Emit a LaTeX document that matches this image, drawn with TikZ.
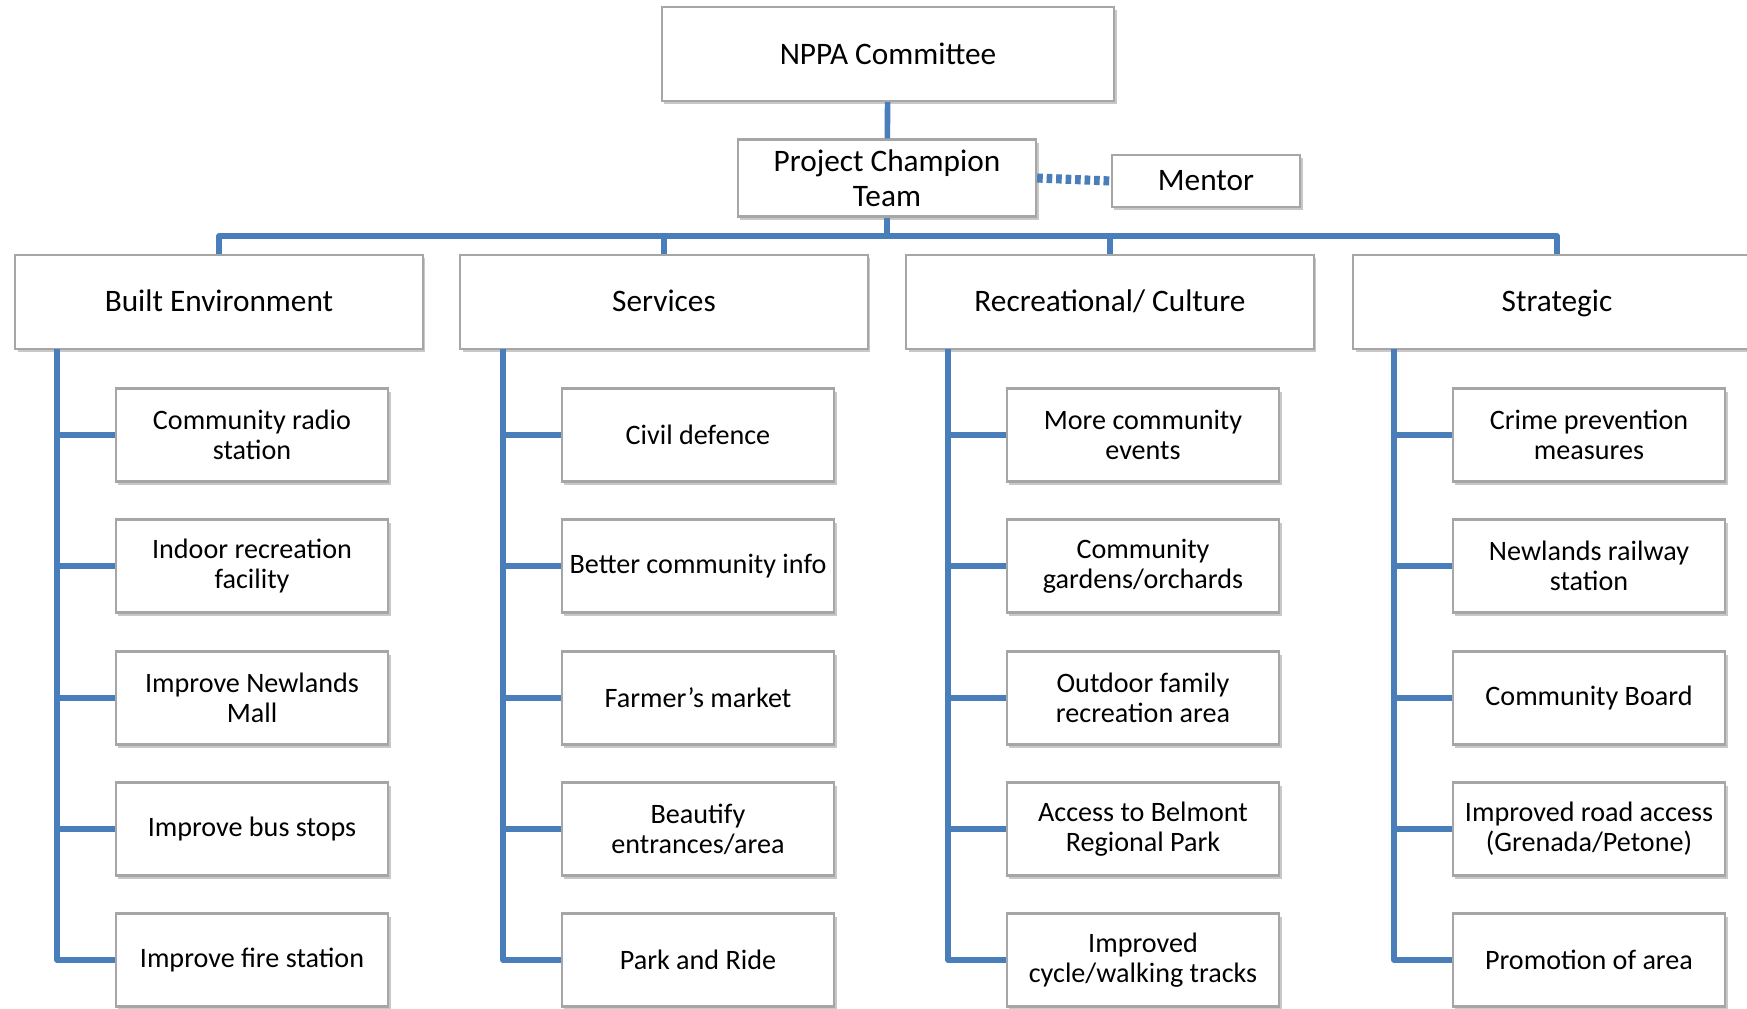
\documentclass[tikz,border=0pt]{standalone}
\usepackage{fontspec}
\setmainfont{Carlito}
\usetikzlibrary{shadows}
\definecolor{linkblue}{HTML}{4A7EBB}
\definecolor{boxgray}{HTML}{A6A6A6}
\tikzset{
  box/.style={draw=boxgray,line width=.6pt,fill=white,align=center,inner sep=2pt,
    font=\fontsize{8.9pt}{8.6pt}\selectfont,
    drop shadow={shadow xshift=.7pt,shadow yshift=-.9pt,opacity=.3,fill=black!70}},
  topbox/.style={box,minimum width=4.52cm,minimum height=.94cm},
  catbox/.style={box,minimum width=4.07cm,minimum height=.94cm,text height=1.55ex,text depth=.45ex},
  itembox/.style={box,minimum width=2.72cm,minimum height=.93cm,font=\fontsize{8pt}{8.6pt}\selectfont},
  link/.style={draw=linkblue,line width=1.6pt,line join=round}
}
\begin{document}
\begin{tikzpicture}[x=.01cm,y=-.01cm]
\clip (0,0) rectangle (1747,1008);
\fill[white] (0,0) rectangle (1747,1008);
% top of the tree
\node[topbox] (nppa) at (888,54) {NPPA Committee};
\node[box,minimum width=2.98cm,minimum height=.77cm,font=\fontsize{8.9pt}{10pt}\selectfont] (pct) at (887,178) {Project Champion\\Team};
\node[box,minimum width=1.88cm,minimum height=.52cm] (mentor) at (1206,181) {Mentor};
\coordinate (bus) at (887,236);
% the four groups
\node[catbox] (built) at (219,302) {Built Environment};
\node[catbox] (serv) at (664,302) {Services};
\node[catbox] (recr) at (1110,302) {Recreational/ Culture};
\node[catbox] (strat) at (1557,302) {Strategic};
% built environment
\node[itembox] (be1) at (252,435) {Community radio\\station};
\node[itembox] (be2) at (252,566) {Indoor recreation\\facility};
\node[itembox] (be3) at (252,698) {Improve Newlands\\Mall};
\node[itembox] (be4) at (252,829) {Improve bus stops};
\node[itembox] (be5) at (252,960) {Improve fire station};
% services
\node[itembox] (sv1) at (698,435) {Civil defence};
\node[itembox] (sv2) at (698,566) {Better community info};
\node[itembox] (sv3) at (698,698) {Farmer’s market};
\node[itembox] (sv4) at (698,829) {Beautify\\entrances/area};
\node[itembox] (sv5) at (698,960) {Park and Ride};
% recreational / culture
\node[itembox] (rc1) at (1143,435) {More community\\events};
\node[itembox] (rc2) at (1143,566) {Community\\gardens/orchards};
\node[itembox] (rc3) at (1143,698) {Outdoor family\\recreation area};
\node[itembox] (rc4) at (1143,829) {Access to Belmont\\Regional Park};
\node[itembox] (rc5) at (1143,960) {Improved\\cycle/walking tracks};
% strategic
\node[itembox] (st1) at (1589,435) {Crime prevention\\measures};
\node[itembox] (st2) at (1589,566) {Newlands railway\\station};
\node[itembox] (st3) at (1589,698) {Community Board};
\node[itembox] (st4) at (1589,829) {Improved road access\\(Grenada/Petone)};
\node[itembox] (st5) at (1589,960) {Promotion of area};
% connectors
\draw[link] (nppa) -- (pct); \draw[link] (pct) -- (bus);
\draw[link,dash pattern=on 1.6pt off 1.1pt,line width=2.6pt] (pct.east) -- (mentor.west);
\draw[link] (built.north) -- (built.north |- bus) -- (strat.north |- bus) -- (strat.north);
\draw[link] (serv.north) -- (serv.north |- bus); \draw[link] (recr.north) -- (recr.north |- bus);
\coordinate (t1) at (57,349); \coordinate (t2) at (503,349);
\coordinate (t3) at (948,349); \coordinate (t4) at (1394,349);
\draw[link] (t1) |- (be5.west); \draw[link] (t2) |- (sv5.west);
\draw[link] (t3) |- (rc5.west); \draw[link] (t4) |- (st5.west);
\draw[link] (be1.west) -- (be1.west -| t1); \draw[link] (be2.west) -- (be2.west -| t1);
\draw[link] (be3.west) -- (be3.west -| t1); \draw[link] (be4.west) -- (be4.west -| t1);
\draw[link] (sv1.west) -- (sv1.west -| t2); \draw[link] (sv2.west) -- (sv2.west -| t2);
\draw[link] (sv3.west) -- (sv3.west -| t2); \draw[link] (sv4.west) -- (sv4.west -| t2);
\draw[link] (rc1.west) -- (rc1.west -| t3); \draw[link] (rc2.west) -- (rc2.west -| t3);
\draw[link] (rc3.west) -- (rc3.west -| t3); \draw[link] (rc4.west) -- (rc4.west -| t3);
\draw[link] (st1.west) -- (st1.west -| t4); \draw[link] (st2.west) -- (st2.west -| t4);
\draw[link] (st3.west) -- (st3.west -| t4); \draw[link] (st4.west) -- (st4.west -| t4);
\end{tikzpicture}
\end{document}
